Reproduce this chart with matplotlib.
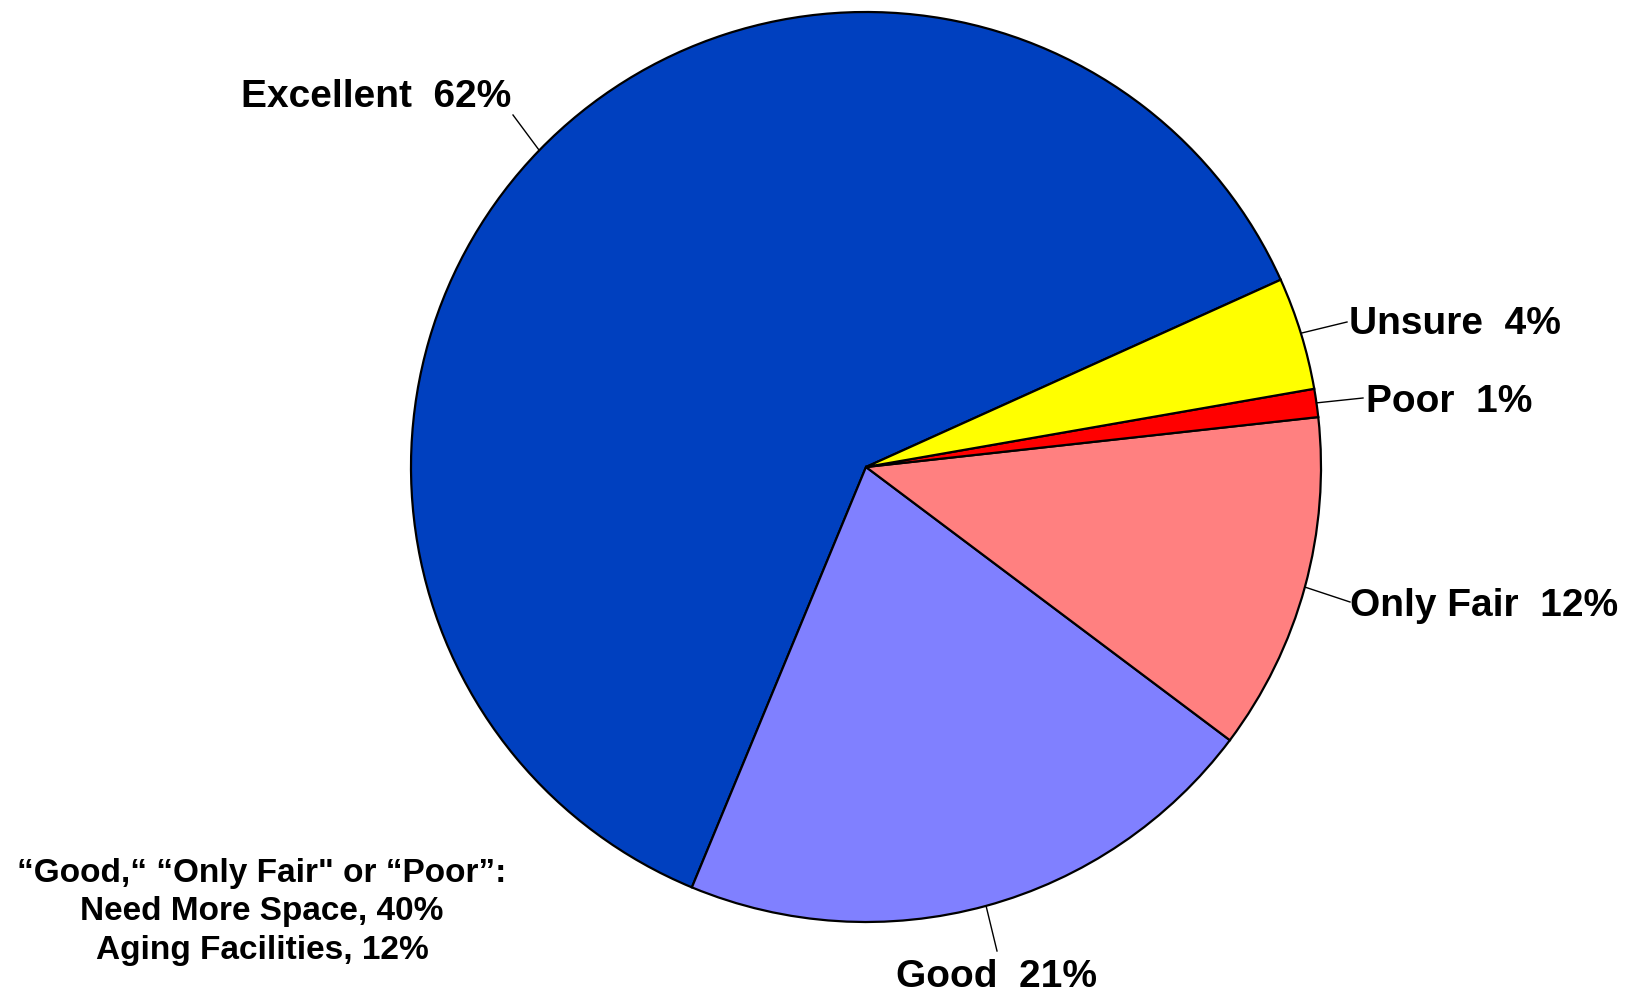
import matplotlib.pyplot as plt
import numpy as np

# survey answers, counter-clockwise from the Excellent/Unsure edge
labels = ['Excellent', 'Good', 'Only Fair', 'Poor', 'Unsure']
shares = [62, 21, 12, 1, 4]
colors = ['#0040BF', '#8080FF', '#FF8080', '#FF0000', '#FFFF00']
note_lines = ['\u201cGood,\u201c \u201cOnly Fair" or \u201cPoor\u201d:',
              'Need More Space, 40%',
              'Aging Facilities, 12%']

W, H = 1633, 993
plt.rcParams['font.family'] = ['Liberation Sans', 'DejaVu Sans']

fig = plt.figure(figsize=(W / 100, H / 100), dpi=100)
ax = fig.add_axes([0, 0, 1, 1])

cx, cy, r = 866, H - 467, 455
wedges, _ = ax.pie(shares, colors=colors, startangle=24.3, counterclock=True,
                   center=(cx, cy), radius=r, frame=True,
                   wedgeprops=dict(edgecolor='black', linewidth=1.6))
ax.set_xlim(0, W)
ax.set_ylim(0, H)
ax.set_aspect('equal')
ax.axis('off')

# where each leader ends / label sits (pixels from top-left), and alignment
label_pos = {
    'Excellent': ((513, 115), (511, 93), 'right'),
    'Good': ((997, 951), (997, 973), 'center'),
    'Only Fair': ((1350, 602), (1350, 602), 'left'),
    'Poor': ((1363, 398), (1366, 398), 'left'),
    'Unsure': ((1347, 322), (1349, 320), 'left'),
}

for w, lab, val in zip(wedges, labels, shares):
    mid = np.deg2rad((w.theta1 + w.theta2) / 2)
    x0, y0 = cx + r * np.cos(mid), cy + r * np.sin(mid)
    (lx, ly), (tx, ty), ha = label_pos[lab]
    ax.plot([x0, lx], [y0, H - ly], color='black', lw=1.0)
    ax.text(tx, H - ty, f'{lab}  {val}%', ha=ha, va='center_baseline',
            fontsize=28, fontweight='bold')

ax.text(262, H - 912, '\n'.join(note_lines), ha='center', va='center',
        fontsize=24, fontweight='bold', linespacing=1.33)

fig.savefig('out.png', dpi=100)
